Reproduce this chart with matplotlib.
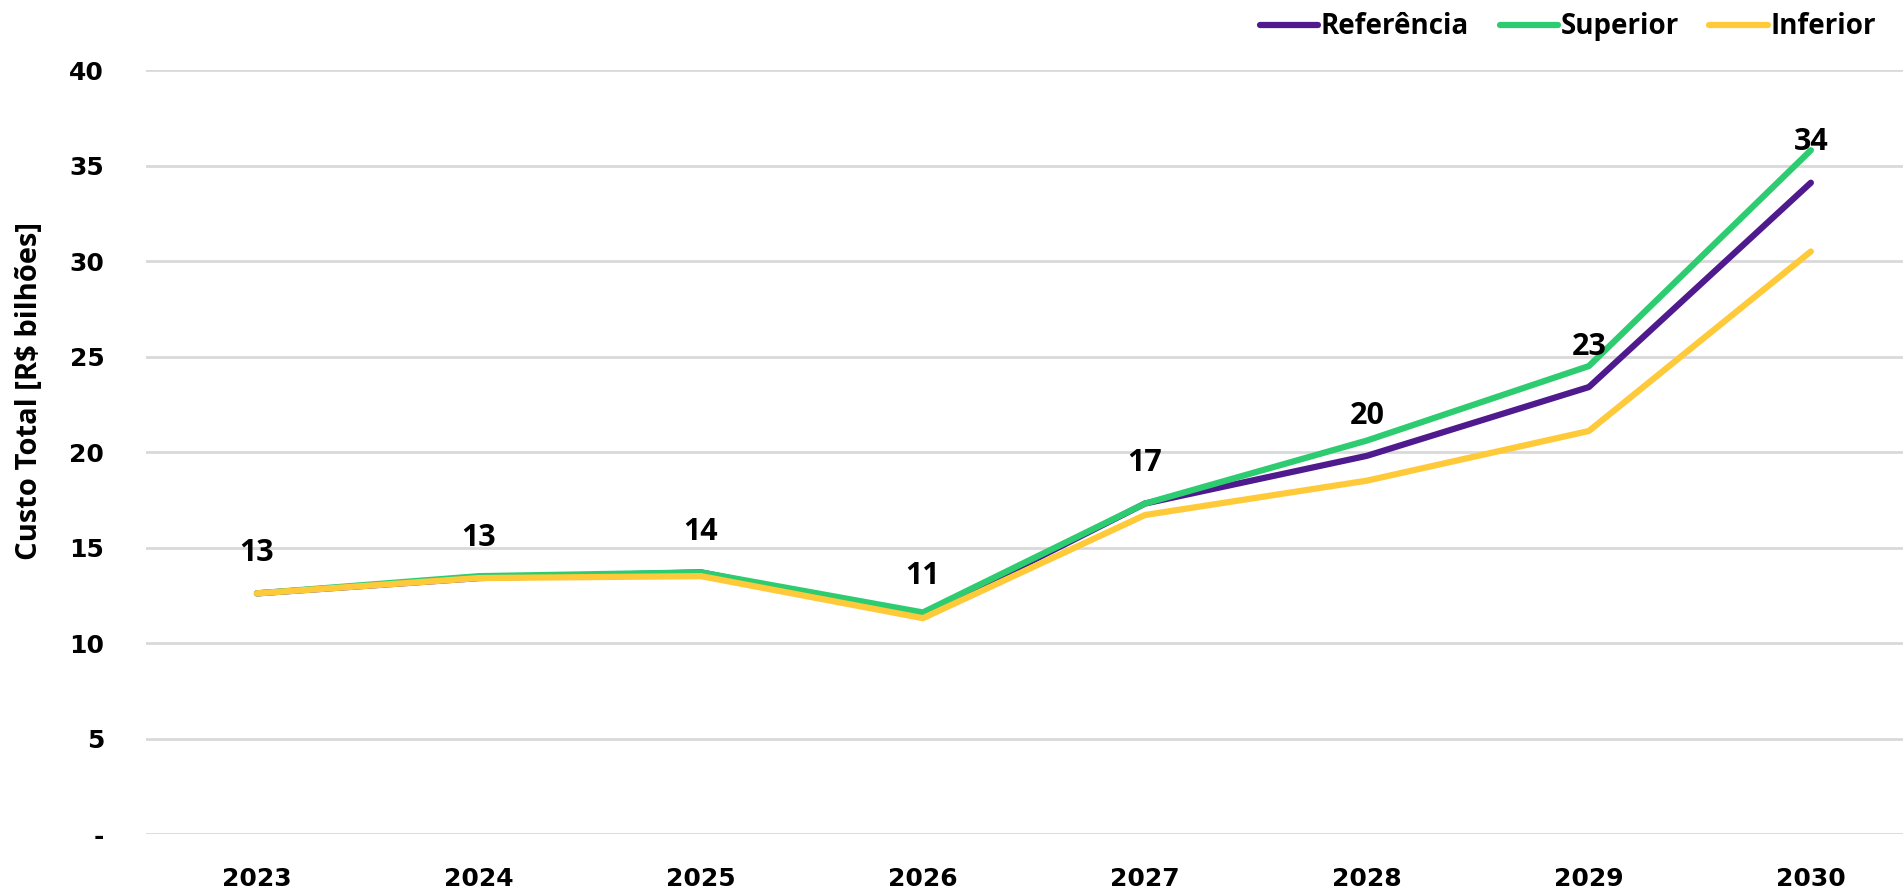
import numpy as np
import matplotlib.pyplot as plt

# Custo total por cenário (R$ bilhões)
anos = ['2023', '2024', '2025', '2026', '2027', '2028', '2029', '2030']
referencia = [12.6, 13.4, 13.7, 11.4, 17.3, 19.8, 23.4, 34.1]
superior = [12.6, 13.5, 13.7, 11.6, 17.3, 20.6, 24.5, 35.8]
inferior = [12.6, 13.4, 13.5, 11.3, 16.7, 18.5, 21.1, 30.5]
rotulos = ['13', '13', '14', '11', '17', '20', '23', '34']

yticks = [0, 5, 10, 15, 20, 25, 30, 35, 40]
ytick_labels = ['-', '5', '10', '15', '20', '25', '30', '35', '40']

roxo = '#4E1A8E'
verde = '#2ECC71'
amarelo = '#FFCA3A'

fig = plt.figure(figsize=(19.03, 8.94), dpi=100)
ax = fig.add_axes([0.0767, 0.0671, 0.9233, 0.8546])

x = np.arange(len(anos))
ax.plot(x, referencia, color=roxo, lw=4.5, solid_capstyle='round', label='Referência', zorder=3)
ax.plot(x, superior, color=verde, lw=4.5, solid_capstyle='round', label='Superior', zorder=4)
ax.plot(x, inferior, color=amarelo, lw=4.5, solid_capstyle='round', label='Inferior', zorder=5)

for xi, yi, txt in zip(x, referencia, rotulos):
    ax.annotate(txt, (xi, yi), xytext=(0, 29), textcoords='offset points',
                ha='center', va='center', fontsize=22, fontweight='bold',
                family='Open Sans', color='black', zorder=6)

ax.set_xlim(-0.5, 7.415)
ax.set_ylim(0, 40)
ax.set_xticks(x)
ax.set_xticklabels(anos, fontsize=18, fontweight='bold', family='DejaVu Sans')
ax.set_yticks(yticks)
ax.set_yticklabels(ytick_labels, fontsize=18, fontweight='bold', family='DejaVu Sans')
ax.tick_params(axis='both', length=0)
ax.tick_params(axis='x', pad=24)
ax.tick_params(axis='y', pad=30)

ax.grid(axis='y', color='#D9D9D9', lw=2)
ax.set_axisbelow(True)
for s in ax.spines.values():
    s.set_visible(False)

ax.set_ylabel('Custo Total [R$ bilhões]', fontsize=21, fontweight='bold', family='Open Sans')
ax.yaxis.set_label_coords(-0.058, 0.58)

fig.legend(loc='center right', bbox_to_anchor=(0.999, 0.97), ncol=3, frameon=False,
           prop={'family': 'Open Sans', 'weight': 'bold', 'size': 20},
           handlelength=2.1, handletextpad=0.1, columnspacing=1.1)

plt.savefig('out.png', dpi=100)
